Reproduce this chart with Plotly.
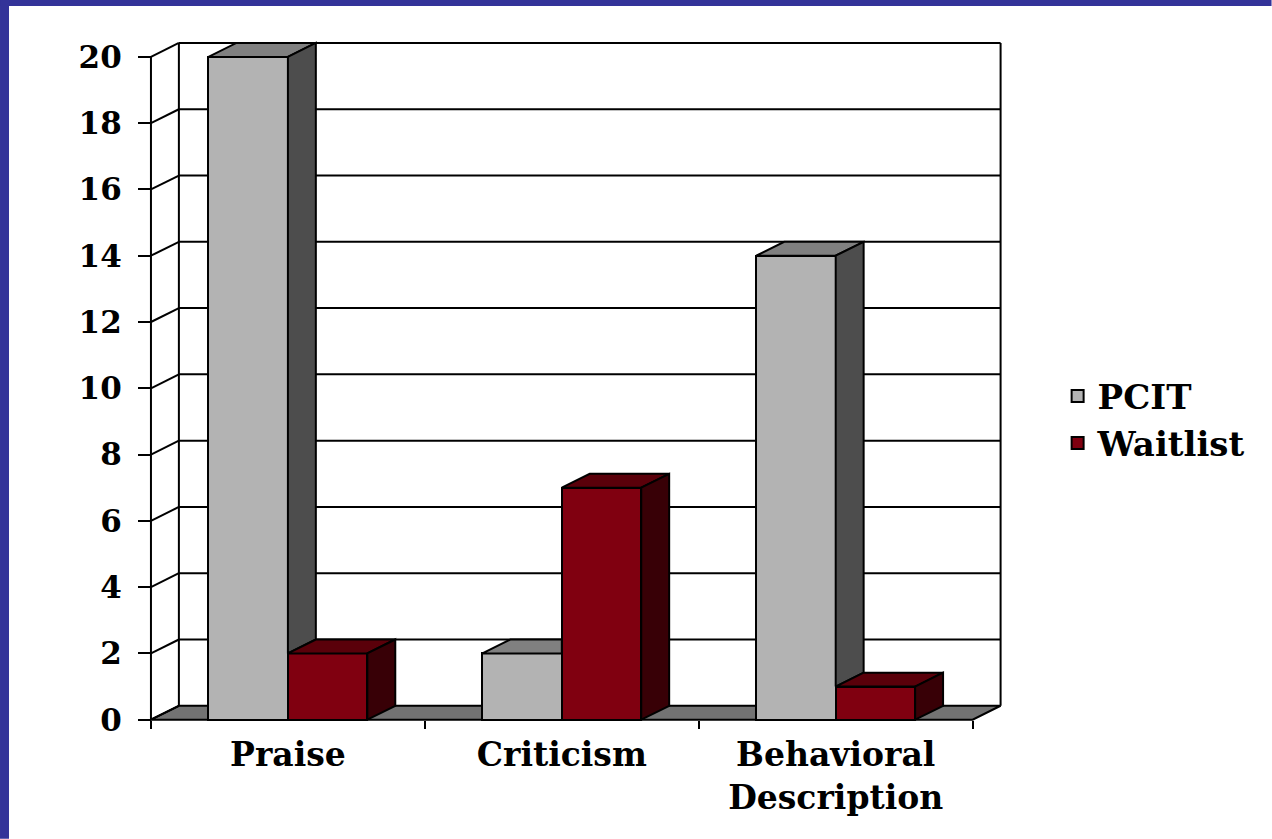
import plotly.graph_objects as go

# ---------------- data ----------------
categories = ["Praise", "Criticism", "Behavioral<br>Description"]
series_names = ["PCIT", "Waitlist"]
pcit_values = [20, 2, 14]
waitlist_values = [2, 7, 1]
y_tick_values = [0, 2, 4, 6, 8, 10, 12, 14, 16, 18, 20]

# ---------------- style ----------------
FRONT = {"PCIT": "#b3b3b3", "Waitlist": "#800010"}
TOP = {"PCIT": "#808080", "Waitlist": "#5a000a"}
SIDE = {"PCIT": "#4d4d4d", "Waitlist": "#380006"}
FLOOR = "#737373"
BORDER_BLUE = "#333399"
BAR_W = 0.29          # bar width in category units
DX, DY = 0.102, 0.42  # 3-D depth offset in axis units
LW = 2
FAMILY = "DejaVu Serif"
FONT = dict(family=FAMILY, size=31, color="black", weight="bold")
XFONT = dict(family=FAMILY, size=33, color="black", weight="bold")
LFONT = dict(family=FAMILY, size=34, color="black", weight="bold")

W, H = 1272, 839
X0, X1 = -0.04, 3.14
Y0, Y1 = -0.1, 20.6
PX, PY = 274.0, 33.15
OX, OY = 151.0, 720.0
L = OX + X0 * PX
R = OX + X1 * PX
T = OY - Y1 * PY
B = OY - Y0 * PY

n = len(categories)
centers = [i + 0.5 for i in range(n)]

fig = go.Figure()

# front faces (real bars)
fig.add_trace(go.Bar(x=centers, y=pcit_values, width=BAR_W, offset=-BAR_W,
                     name=series_names[0],
                     marker=dict(color=FRONT["PCIT"], line=dict(color="black", width=LW))))
fig.add_trace(go.Bar(x=centers, y=waitlist_values, width=BAR_W, offset=0,
                     name=series_names[1],
                     marker=dict(color=FRONT["Waitlist"], line=dict(color="black", width=LW))))


def poly(xs, ys, color):
    fig.add_trace(go.Scatter(x=xs + [xs[0]], y=ys + [ys[0]], mode="lines",
                             fill="toself", fillcolor=color,
                             line=dict(color="black", width=LW),
                             showlegend=False, hoverinfo="skip"))


# top and side faces, computed from values
for i, c in enumerate(centers):
    bars = [(c - BAR_W, pcit_values[i], "PCIT"), (c, waitlist_values[i], "Waitlist")]
    for k, (xl, h, s) in enumerate(bars):
        xr = xl + BAR_W
        nxt = bars[k + 1] if k + 1 < len(bars) else None
        # top
        if nxt is not None and nxt[1] >= h:
            poly([xl, xr, xr, xl + DX], [h, h, h + DY, h + DY], TOP[s])
        else:
            poly([xl, xr, xr + DX, xl + DX], [h, h, h + DY, h + DY], TOP[s])
        # side
        if nxt is None:
            poly([xr, xr + DX, xr + DX, xr], [0, DY, h + DY, h], SIDE[s])
        elif nxt[1] < h:
            hn = nxt[1]
            poly([xr, xr + DX, xr + DX, xr], [hn, hn + DY, h + DY, h], SIDE[s])

# walls, floor, gridlines (layout shapes under the bars)
shapes = []
line = dict(color="black", width=LW)
shapes.append(dict(type="path", xref="x", yref="y", layer="below",
                   path=f"M0,0 L{n},0 L{n + DX},{DY} L{DX},{DY} Z",
                   fillcolor=FLOOR, line=line))
for v in y_tick_values:
    if v > 0:
        shapes.append(dict(type="line", xref="x", yref="y", layer="below",
                           x0=DX, y0=v + DY, x1=n + DX, y1=v + DY, line=line))
    shapes.append(dict(type="line", xref="x", yref="y", layer="below",
                       x0=0, y0=v, x1=DX, y1=v + DY, line=line))
top_v = y_tick_values[-1]
shapes.append(dict(type="line", xref="x", yref="y", layer="below",
                   x0=DX, y0=DY, x1=DX, y1=top_v + DY, line=line))
shapes.append(dict(type="line", xref="x", yref="y", layer="below",
                   x0=n + DX, y0=DY, x1=n + DX, y1=top_v + DY, line=line))
shapes.append(dict(type="line", xref="x", yref="y", layer="below",
                   x0=0, y0=0, x1=0, y1=top_v, line=line))


# blue frame (top and left strips of the slide)
def px_x(p):
    return (p - L) / (R - L)


def px_y(p):
    return (B - p) / (B - T)


shapes.append(dict(type="rect", xref="paper", yref="paper", layer="above",
                   x0=px_x(0), x1=px_x(W), y0=px_y(0), y1=px_y(6),
                   fillcolor=BORDER_BLUE, line=dict(width=0)))
shapes.append(dict(type="rect", xref="paper", yref="paper", layer="above",
                   x0=px_x(0), x1=px_x(9), y0=px_y(0), y1=px_y(H),
                   fillcolor=BORDER_BLUE, line=dict(width=0)))

fig.update_layout(
    width=W, height=H, autosize=False,
    margin=dict(l=round(L), r=W - round(R), t=round(T), b=H - round(B), pad=0),
    paper_bgcolor="white", plot_bgcolor="white",
    barmode="overlay", bargap=0,
    font=FONT,
    shapes=shapes,
    showlegend=True,
    legend=dict(x=px_x(1058), y=px_y(420), xanchor="left", yanchor="middle",
                font=LFONT, bgcolor="rgba(0,0,0,0)", traceorder="normal",
                itemclick=False, itemdoubleclick=False),
    xaxis=dict(range=[X0, X1], tickmode="array", tickvals=centers, ticktext=categories,
               ticks="", showgrid=False, zeroline=False, showline=False,
               anchor="free", position=(0 - Y0) / (Y1 - Y0),
               ticklabelstandoff=12, tickfont=XFONT,
               minor=dict(tickmode="array", tickvals=list(range(n + 1)), ticks="outside",
                          ticklen=8, tickwidth=LW, tickcolor="black", showgrid=False)),
    yaxis=dict(range=[Y0, Y1], tickmode="array", tickvals=y_tick_values,
               ticks="outside", ticklen=13, tickwidth=LW, tickcolor="black",
               showgrid=False, zeroline=False, showline=False,
               anchor="free", position=(0 - X0) / (X1 - X0),
               ticklabelstandoff=10, tickfont=FONT),
)

fig.write_html("out.html", config={"displayModeBar": False},
               post_script="document.body.style.margin='0';")
